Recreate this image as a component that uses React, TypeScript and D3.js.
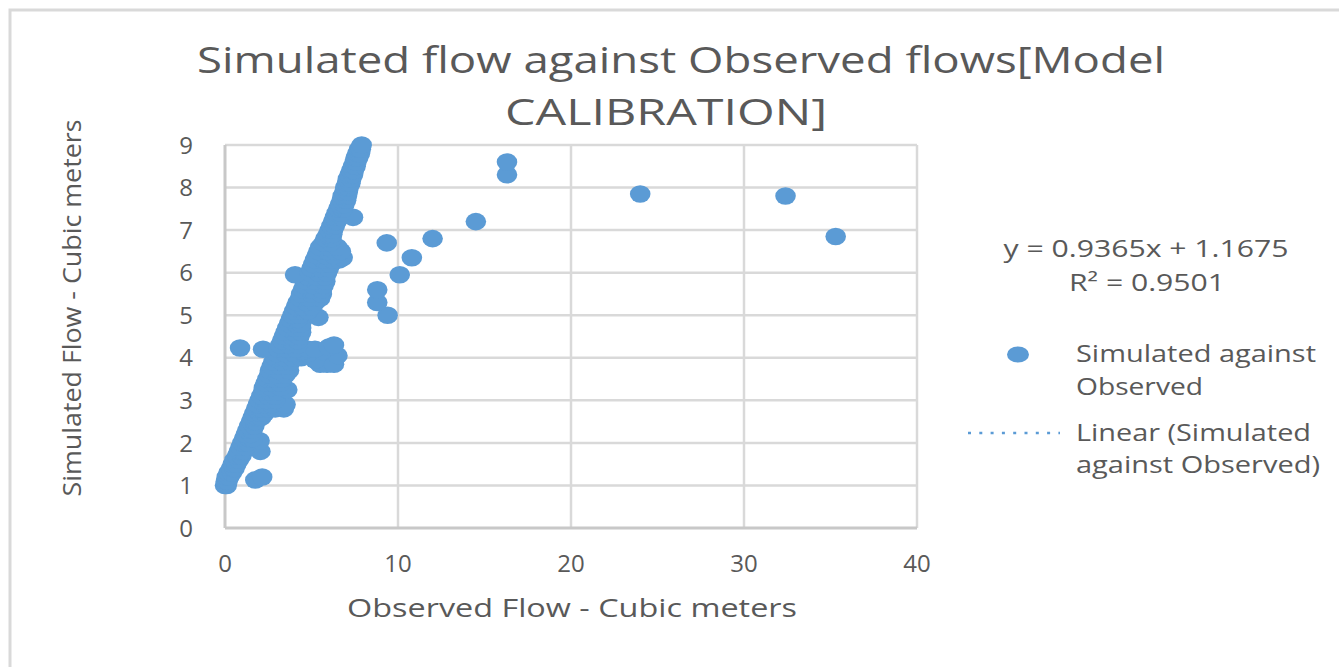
import React, { useEffect, useRef } from 'react';
import * as d3 from 'd3';

// simulated flow levels (y), one row per level
const simulatedLevels = [
  1.0, 1.1, 1.13, 1.2, 1.3, 1.4, 1.5, 1.6, 1.7, 1.8,
  1.9, 2.0, 2.05, 2.1, 2.2, 2.3, 2.4, 2.5, 2.6, 2.7,
  2.8, 2.9, 3.0, 3.1, 3.2, 3.25, 3.3, 3.4, 3.5, 3.6,
  3.7, 3.8, 3.85, 3.9, 3.95, 4.0, 4.05, 4.1, 4.15, 4.2,
  4.23, 4.25, 4.3, 4.4, 4.5, 4.6, 4.7, 4.8, 4.9, 4.95,
  5.0, 5.1, 5.2, 5.3, 5.4, 5.5, 5.6, 5.7, 5.8, 5.9,
  5.95, 6.0, 6.1, 6.2, 6.3, 6.35, 6.4, 6.5, 6.6, 6.7,
  6.8, 6.85, 6.9, 7.0, 7.1, 7.2, 7.3, 7.4, 7.5, 7.6,
  7.7, 7.8, 7.85, 7.9, 8.0, 8.1, 8.2, 8.3, 8.4, 8.5,
  8.6, 8.7, 8.8, 8.9, 9.0
];

// observed flows (x) for each simulated level above
const observedByLevel = [
  [0.0, 0.1], [0.05, 0.15], [1.75], [0.1, 0.25, 2.15], [0.2, 0.4],
  [0.35, 0.55], [0.45, 0.65], [0.55, 0.8], [0.7, 0.95], [0.8, 1.05, 2.05],
  [0.9, 1.2], [1.0, 1.3], [2.0], [1.1, 1.4, 1.6], [1.2, 1.5],
  [1.3, 1.6], [1.4, 1.7], [1.5, 1.75], [1.6, 1.85, 2.1], [1.7, 2.0, 2.3],
  [1.8, 2.1, 2.5, 2.9, 3.4], [1.9, 2.3, 2.7, 3.5], [2.0, 2.4, 2.9], [2.1, 2.5, 2.9], [2.2, 2.6, 3.0],
  [3.6], [2.25, 2.7, 3.2], [2.35, 2.8, 3.2], [2.45, 2.9, 3.3], [2.55, 3.0, 3.5],
  [2.6, 3.1, 3.7], [2.7, 3.2, 3.6], [5.5, 5.9, 6.3], [2.8, 3.3, 3.8], [5.2],
  [2.9, 3.4, 3.9, 4.4], [6.5], [3.0, 3.5, 4.0, 4.6, 4.8], [4.5, 5.6], [2.2, 3.1, 3.6, 4.1, 4.8, 5.2],
  [0.87], [6.0], [3.2, 3.7, 4.2, 6.3], [3.3, 3.8, 4.2], [3.4, 3.9, 4.3],
  [3.5, 4.0, 4.4], [3.6, 4.0, 4.4], [3.7, 4.1, 4.4], [3.8, 4.2], [5.4],
  [3.9, 4.3, 9.4], [4.0, 4.4, 4.8], [4.1, 4.5, 5.0], [4.2, 4.7, 5.2, 8.8], [4.35, 4.9, 5.5],
  [4.4, 5.0, 5.6], [4.5, 5.0, 5.6, 8.8], [4.6, 5.1, 5.7], [4.7, 5.2, 5.8], [4.8, 5.3, 5.8],
  [4.05, 10.1], [4.9, 5.4, 5.9], [5.0, 5.5, 6.0], [5.1, 5.6, 6.1], [5.2, 5.7, 6.2, 6.6],
  [6.8, 10.8], [5.3, 5.8, 6.3], [5.4, 5.9, 6.4, 6.7], [5.5, 6.0, 6.5], [5.7, 6.1, 9.35],
  [5.8, 6.15, 12.0], [35.3], [5.95, 6.2], [6.05, 6.25], [6.15, 6.35],
  [6.25, 6.45, 14.5], [6.35, 6.6, 7.4], [6.45, 6.7], [6.55, 6.8], [6.65, 6.9],
  [6.75, 7.0], [6.8, 7.05, 32.4], [24.0], [6.9, 7.1], [6.95, 7.15],
  [7.05, 7.25], [7.1, 7.3], [7.2, 7.4, 16.3], [7.3, 7.45], [7.4, 7.55],
  [7.5, 7.6, 16.3], [7.55, 7.7], [7.65, 7.8], [7.75, 7.85], [7.9]
];

const xTicks = [0, 10, 20, 30, 40];
const yTicks = [0, 1, 2, 3, 4, 5, 6, 7, 8, 9];

const trendSlope = 0.9365;
const trendIntercept = 1.1675;
const rSquared = 0.9501;

const titleLines = ['Simulated flow against Observed flows[Model', 'CALIBRATION]'];
const xTitle = 'Observed Flow - Cubic meters';
const yTitle = 'Simulated Flow - Cubic meters';
const seriesName = 'Simulated against Observed';

const App = () => {
  const svgRef = useRef(null);

  useEffect(() => {
    const svg = d3.select(svgRef.current);
    svg.selectAll('*').remove();

    const width = 1339;
    const height = 667;
    const margin = { top: 145, right: 422, bottom: 139, left: 225 };
    const font = '"Open Sans", "Liberation Sans", sans-serif';
    const textColor = '#595959';
    const blue = '#5B9BD5';

    // chart area border (runs off the right and bottom of the picture)
    svg.append('rect')
      .attr('x', 10).attr('y', 10)
      .attr('width', width + 100).attr('height', height + 100)
      .attr('fill', 'white')
      .attr('stroke', '#d9d9d9')
      .attr('stroke-width', 3);

    const x = d3.scaleLinear().domain([0, 40]).range([margin.left, width - margin.right]);
    const y = d3.scaleLinear().domain([0, 9]).range([height - margin.bottom, margin.top]);

    // grid
    svg.append('g')
      .selectAll('line')
      .data(yTicks.slice(1))
      .enter().append('line')
      .attr('x1', x(0)).attr('x2', x(40))
      .attr('y1', d => y(d)).attr('y2', d => y(d))
      .attr('stroke', '#d9d9d9').attr('stroke-width', 2.5);

    svg.append('g')
      .selectAll('line')
      .data(xTicks.slice(1))
      .enter().append('line')
      .attr('x1', d => x(d)).attr('x2', d => x(d))
      .attr('y1', y(0)).attr('y2', y(9))
      .attr('stroke', '#d9d9d9').attr('stroke-width', 2.5);

    // axis lines
    svg.append('line')
      .attr('x1', x(0)).attr('x2', x(0))
      .attr('y1', y(0)).attr('y2', y(9))
      .attr('stroke', '#c8c8c8').attr('stroke-width', 3);
    svg.append('line')
      .attr('x1', x(0)).attr('x2', x(40))
      .attr('y1', y(0)).attr('y2', y(0))
      .attr('stroke', '#c8c8c8').attr('stroke-width', 3);

    // tick labels
    svg.append('g')
      .selectAll('text')
      .data(yTicks)
      .enter().append('text')
      .attr('x', x(0) - 32)
      .attr('y', d => y(d))
      .attr('dy', '0.36em')
      .attr('text-anchor', 'end')
      .style('font-family', font).style('font-size', '24px')
      .attr('fill', textColor)
      .text(d => d);

    svg.append('g')
      .selectAll('text')
      .data(xTicks)
      .enter().append('text')
      .attr('x', d => x(d))
      .attr('y', y(0) + 44)
      .attr('text-anchor', 'middle')
      .style('font-family', font).style('font-size', '24px')
      .attr('fill', textColor)
      .text(d => d);

    // points
    const points = simulatedLevels.flatMap((s, i) => observedByLevel[i].map(o => ({ o, s })));
    svg.append('g')
      .selectAll('ellipse')
      .data(points)
      .enter().append('ellipse')
      .attr('cx', d => x(d.o))
      .attr('cy', d => y(d.s))
      .attr('rx', 10.3)
      .attr('ry', 8.8)
      .attr('fill', blue);

    // trend line, clipped to the plot
    svg.append('clipPath').attr('id', 'plot-clip')
      .append('rect')
      .attr('x', x(0)).attr('y', y(9))
      .attr('width', x(40) - x(0)).attr('height', y(0) - y(9));
    const maxObs = d3.max(points, d => d.o);
    svg.append('line')
      .attr('clip-path', 'url(#plot-clip)')
      .attr('x1', x(0)).attr('y1', y(trendIntercept))
      .attr('x2', x(maxObs)).attr('y2', y(trendIntercept + trendSlope * maxObs))
      .attr('stroke', blue).attr('stroke-width', 2.5)
      .attr('stroke-dasharray', '3 8');

    // title
    const titleLens = [968, 322];
    const titleBase = [73, 125];
    titleLines.forEach((t, i) => {
      svg.append('text')
        .attr('x', 681 - (i === 1 ? 15 : 0))
        .attr('y', titleBase[i])
        .attr('text-anchor', 'middle')
        .attr('textLength', titleLens[i])
        .attr('lengthAdjust', 'spacingAndGlyphs')
        .style('font-family', font).style('font-size', '37px')
        .attr('fill', textColor)
        .text(t);
    });

    // axis titles
    svg.append('text')
      .attr('x', 572).attr('y', 617)
      .attr('text-anchor', 'middle')
      .attr('textLength', 450)
      .attr('lengthAdjust', 'spacingAndGlyphs')
      .style('font-family', font).style('font-size', '26px')
      .attr('fill', textColor)
      .text(xTitle);

    svg.append('text')
      .attr('transform', 'translate(81,308) rotate(-90)')
      .attr('text-anchor', 'middle')
      .attr('textLength', 377)
      .attr('lengthAdjust', 'spacingAndGlyphs')
      .style('font-family', font).style('font-size', '26px')
      .attr('fill', textColor)
      .text(yTitle);

    // trend equation
    svg.append('text')
      .attr('x', 1146).attr('y', 257)
      .attr('text-anchor', 'middle')
      .attr('textLength', 285)
      .attr('lengthAdjust', 'spacingAndGlyphs')
      .style('font-family', font).style('font-size', '24px')
      .attr('fill', textColor)
      .text(`y = ${trendSlope}x + ${trendIntercept}`);
    svg.append('text')
      .attr('x', 1147).attr('y', 291)
      .attr('text-anchor', 'middle')
      .attr('textLength', 156)
      .attr('lengthAdjust', 'spacingAndGlyphs')
      .style('font-family', font).style('font-size', '24px')
      .attr('fill', textColor)
      .text(`R² = ${rSquared}`);

    // legend
    const legend = svg.append('g');
    legend.append('ellipse')
      .attr('cx', 1018).attr('cy', 354.5)
      .attr('rx', 11).attr('ry', 8)
      .attr('fill', blue);
    legend.append('line')
      .attr('x1', 968).attr('x2', 1060)
      .attr('y1', 433).attr('y2', 433)
      .attr('stroke', blue).attr('stroke-width', 2.5)
      .attr('stroke-dasharray', '3 8.3');

    const legendLines = [
      { t: 'Simulated against', y: 362, len: 240 },
      { t: 'Observed', y: 395, len: 127 },
      { t: 'Linear (Simulated', y: 441, len: 235 },
      { t: 'against Observed)', y: 473, len: 244 }
    ];
    legend.selectAll('text.item')
      .data(legendLines)
      .enter().append('text')
      .attr('class', 'item')
      .attr('x', 1076)
      .attr('y', d => d.y)
      .attr('textLength', d => d.len)
      .attr('lengthAdjust', 'spacingAndGlyphs')
      .style('font-family', font).style('font-size', '24px')
      .attr('fill', textColor)
      .text(d => d.t);
  }, []);

  return (
    <svg
      ref={svgRef}
      width={1339}
      height={667}
      style={{ position: 'absolute', left: 0, top: 0, display: 'block', background: 'white' }}
      aria-label={seriesName}
    />
  );
};

export default App;
